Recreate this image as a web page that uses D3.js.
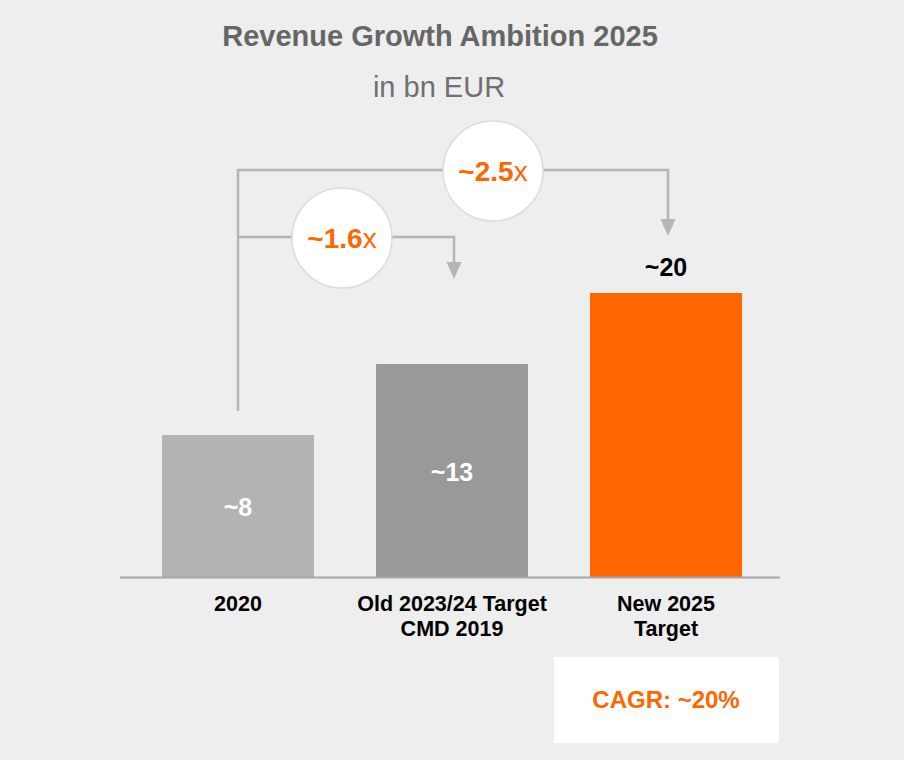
<!DOCTYPE html>
<html>
<head>
<meta charset="utf-8">
<script src="https://cdn.jsdelivr.net/npm/d3@7"></script>
<style>
  html, body { margin: 0; padding: 0; background: #eeeeee; }
  svg { display: block; font-family: "Liberation Sans", Arial, sans-serif; }
</style>
</head>
<body>
<div id="chart"></div>
<script>
// data
const categories = ["2020", "Old 2023/24 Target\nCMD 2019", "New 2025\nTarget"];
const barHeights = [10, 15, 20];          // relative bar heights as drawn
const valueLabels = ["~8", "~13", "~20"];
const barColors = ["#b3b3b3", "#999999", "#ff6600"];
const multiples = [
  { from: 0, to: 1, text: "~1.6", level: 237, tip: 279, cx: 342 },
  { from: 0, to: 2, text: "~2.5", level: 170, tip: 236, cx: 493 }
];
const cagrText = "CAGR: ~20%";

const width = 904, height = 760;
const orange = "#ff6600";
const lineGray = "#b5b5b5";

const svg = d3.select("#chart").append("svg")
  .attr("width", width)
  .attr("height", height);

svg.append("rect").attr("width", width).attr("height", height).attr("fill", "#eeeeee");

const x = d3.scaleBand()
  .domain(categories)
  .range([131, 773])
  .paddingInner(0.29)
  .paddingOuter(0.145);

const y = d3.scaleLinear().domain([0, 20]).range([577, 293]);

// title
svg.append("text")
  .attr("x", 440).attr("y", 46)
  .attr("text-anchor", "middle")
  .attr("font-size", 29).attr("font-weight", "bold")
  .attr("fill", "#666666")
  .text("Revenue Growth Ambition 2025");

svg.append("text")
  .attr("x", 439).attr("y", 97)
  .attr("text-anchor", "middle")
  .attr("font-size", 29)
  .attr("fill", "#707070")
  .text("in bn EUR");

// bars
const bars = categories.map((c, i) => ({ c, v: barHeights[i], label: valueLabels[i], color: barColors[i] }));

svg.selectAll(".bar")
  .data(bars)
  .join("rect")
  .attr("class", "bar")
  .attr("x", d => x(d.c))
  .attr("y", d => y(d.v))
  .attr("width", x.bandwidth())
  .attr("height", d => y(0) - y(d.v))
  .attr("fill", d => d.color);

// value labels: inside for grey bars, above for the orange one
svg.selectAll(".val")
  .data(bars)
  .join("text")
  .attr("class", "val")
  .attr("x", d => x(d.c) + x.bandwidth() / 2)
  .attr("y", (d, i) => i < 2 ? (y(d.v) + y(0)) / 2 + 10 : y(d.v) - 17)
  .attr("text-anchor", "middle")
  .attr("font-size", 25).attr("font-weight", "bold")
  .attr("fill", (d, i) => i < 2 ? "#ffffff" : "#000000")
  .text(d => d.label);

// baseline
svg.append("line")
  .attr("x1", 120).attr("x2", 780)
  .attr("y1", y(0) + 0.5).attr("y2", y(0) + 0.5)
  .attr("stroke", "#a6a6a6").attr("stroke-width", 2);

// category labels
const cat = svg.selectAll(".cat")
  .data(categories)
  .join("text")
  .attr("class", "cat")
  .attr("x", d => x(d) + x.bandwidth() / 2)
  .attr("y", 611)
  .attr("text-anchor", "middle")
  .attr("font-size", 21.5).attr("font-weight", "bold")
  .attr("fill", "#000000");

cat.selectAll("tspan")
  .data(d => d.split("\n"))
  .join("tspan")
  .attr("x", function () { return d3.select(this.parentNode).attr("x"); })
  .attr("dy", (d, i) => i === 0 ? 0 : 25)
  .text(d => d);

// growth connectors
const cx = c => x(categories[c]) + x.bandwidth() / 2;
const g = svg.append("g");

g.append("line")
  .attr("x1", cx(0)).attr("x2", cx(0))
  .attr("y1", 411).attr("y2", d3.min(multiples, m => m.level) - 1)
  .attr("stroke", lineGray).attr("stroke-width", 2.5);

multiples.forEach(m => {
  const x1 = cx(m.from), x2 = cx(m.to) + 2;
  g.append("path")
    .attr("d", `M${x1},${m.level}H${x2}V${m.tip - 15}`)
    .attr("fill", "none")
    .attr("stroke", lineGray).attr("stroke-width", 2.5);
  g.append("path")
    .attr("d", `M${x2 - 7.5},${m.tip - 17}L${x2 + 7.5},${m.tip - 17}L${x2},${m.tip}Z`)
    .attr("fill", lineGray);

  g.append("circle")
    .attr("cx", m.cx).attr("cy", m.level + 1)
    .attr("r", 50)
    .attr("fill", "#ffffff")
    .attr("stroke", "#dcdcdc").attr("stroke-width", 1.5);

  const t = g.append("text")
    .attr("x", m.cx).attr("y", m.level + 11)
    .attr("text-anchor", "middle")
    .attr("fill", orange)
    .attr("font-size", 28);
  t.append("tspan").attr("font-weight", "bold").text(m.text);
  t.append("tspan").text("x");
});

// CAGR box
svg.append("rect")
  .attr("x", 554).attr("y", 657)
  .attr("width", 225).attr("height", 86)
  .attr("fill", "#ffffff");

svg.append("text")
  .attr("x", 666).attr("y", 708)
  .attr("text-anchor", "middle")
  .attr("font-size", 24).attr("font-weight", "bold")
  .attr("fill", orange)
  .text(cagrText);
</script>
</body>
</html>
